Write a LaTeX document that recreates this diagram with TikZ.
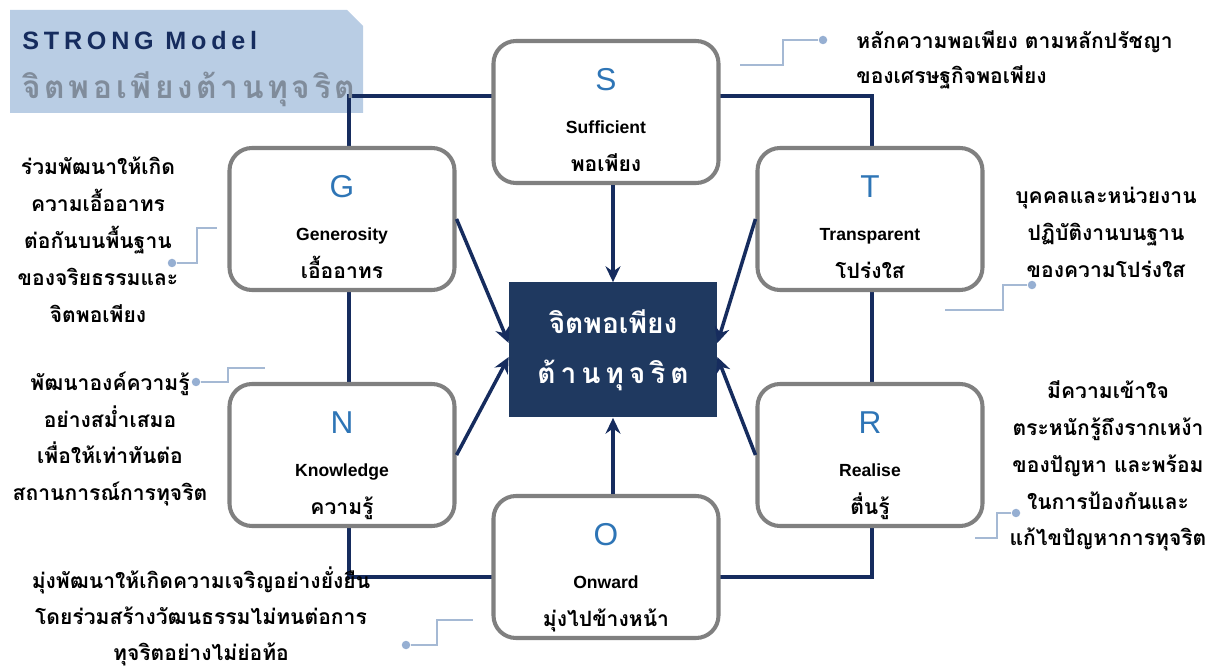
\documentclass[tikz,border=0pt]{standalone}
\usepackage{fontspec}
\setmainfont{Liberation Sans}
\newfontfamily\thaifont[Script=Thai]{Loma}
\definecolor{smnavy}{RGB}{22,44,94}
\definecolor{smcore}{RGB}{31,57,96}
\definecolor{smhead}{RGB}{185,205,228}
\definecolor{smgray}{RGB}{128,128,128}
\definecolor{smblue}{RGB}{46,117,182}
\definecolor{smleader}{RGB}{165,185,212}
\definecolor{smdot}{RGB}{150,175,210}
\definecolor{smsub}{RGB}{128,140,155}
\usetikzlibrary{arrows.meta,positioning,calc}
\newcommand{\hdgap}{\kern2.1pt}
\newcommand{\coregap}{\kern2.8pt}

\begin{document}
\begin{tikzpicture}[x=0.2mm,y=-0.2mm,
  smbox/.style={draw=smgray,line width=2.3pt,fill=white,rounded corners=4.5mm,
    minimum width=45mm,minimum height=28.4mm},
  smletter/.style={anchor=base,inner sep=0pt,text=smblue,font=\fontsize{18}{18}\selectfont},
  smeng/.style={anchor=base,inner sep=0pt,font=\fontsize{10}{12}\selectfont\bfseries},
  smthai/.style={anchor=base,inner sep=0pt,font=\thaifont\bfseries\fontsize{12}{14}\selectfont},
  smnote/.style={align=center,inner sep=0pt,font=\thaifont\bfseries\fontsize{12}{21}\selectfont},
  smframe/.style={smnavy,line width=2.2pt},
  smarrow/.style={-{Stealth[length=9pt,width=8.5pt]},smnavy,line width=2pt},
  smleadline/.style={smleader,line width=1pt},
  smdotnode/.style={circle,fill=smdot,inner sep=0pt,minimum size=1.7mm}
]
  \useasboundingbox (0,0) rectangle (1215,668);

  % header tab
  \fill[smhead] (10,10) -- (347,10) -- (363,26) -- (363,113) -- (10,113) -- cycle;

  % outer frame
  \coordinate (fTL) at (349,96);
  \coordinate (fBR) at (872,577);
  \draw[smframe] (fTL) rectangle (fBR);

  % header texts
  \node[anchor=base west,inner sep=0pt,text=smnavy,
    font=\fontsize{14.3}{16}\selectfont\bfseries\addfontfeature{LetterSpace=19}] (hdTitle) at (22,50) {STRONG Model};
  \node[anchor=base west,inner sep=0pt,text=smsub,
    font=\thaifont\bfseries\fontsize{18}{18}\selectfont] (hdSub) at (22,99)
    {จิ\hdgap ต\hdgap พ\hdgap อ\hdgap เ\hdgap พี\hdgap ย\hdgap ง\hdgap ต้\hdgap า\hdgap น\hdgap ทุ\hdgap จ\hdgap ริ\hdgap ต};

  % six letter boxes
  \foreach \nm/\bx/\by/\eng/\th in {S/606/112/Sufficient/พอเพียง,
      G/342/219/Generosity/เอื้ออาทร, T/870/219/Transparent/โปร่งใส,
      N/342/455/Knowledge/ความรู้, R/870/455/Realise/ตื่นรู้,
      O/606/567/Onward/มุ่งไปข้างหน้า}{
    \node[smbox] (\nm) at (\bx,\by) {};
    \node[smletter] (\nm-l) at ([yshift=12.5pt]\nm.center) {\nm};
    \node[smeng] (\nm-e) at ([yshift=-12.5pt]\nm.center) {\eng};
    \node[smthai] (\nm-t) at ([yshift=-34pt]\nm.center) {\th};
  }

  % core
  \node[fill=smcore,minimum width=41.6mm,minimum height=27mm,align=center,text=white,
    font=\thaifont\bfseries\fontsize{16}{28.5}\selectfont] (core) at (613,350)
    {จิตพอเพียง\\ต้\coregap า\coregap น\coregap ทุ\coregap จ\coregap ริ\coregap ต};

  % arrows into the core
  \draw[smarrow] (S.south -| core.north) -- (core.north);
  \draw[smarrow] (O.north -| core.south) -- (core.south);
  \draw[smarrow] (G.east) -- ([yshift=4pt]core.west);
  \draw[smarrow] (N.east) -- ([yshift=-4pt]core.west);
  \draw[smarrow] (T.west) -- ([yshift=4pt]core.east);
  \draw[smarrow] (R.west) -- ([yshift=-4pt]core.east);

  % notes
  \node[smnote,align=left,anchor=west,font=\thaifont\bfseries\fontsize{12}{20}\selectfont] (sNote) at (856,60)
    {หลักความพอเพียง ตามหลักปรัชญา\\ของเศรษฐกิจพอเพียง};
  \node[smnote] (gNote) at (98,240)
    {ร่วมพัฒนาให้เกิด\\ความเอื้ออาทร\\ต่อกันบนพื้นฐาน\\ของจริยธรรมและ\\จิตพอเพียง};
  \node[smnote] (tNote) at (1106,232)
    {บุคคลและหน่วยงาน\\ปฏิบัติงานบนฐาน\\ของความโปร่งใส};
  \node[smnote] (nNote) at (110,439)
    {พัฒนาองค์ความรู้\\อย่างสม่ำเสมอ\\เพื่อให้เท่าทันต่อ\\สถานการณ์การทุจริต};
  \node[smnote] (rNote) at (1108,466)
    {มีความเข้าใจ\\ตระหนักรู้ถึงรากเหง้า\\ของปัญหา และพร้อม\\ในการป้องกันและ\\แก้ไขปัญหาการทุจริต};
  \node[smnote,font=\thaifont\bfseries\fontsize{12}{20.5}\selectfont] (oNote) at (201,616)
    {มุ่งพัฒนาให้เกิดความเจริญอย่างยั่งยืน\\โดยร่วมสร้างวัฒนธรรมไม่ทนต่อการ\\ทุจริตอย่างไม่ย่อท้อ};

  % leader lines
  \node[smdotnode] (sDot) at (823,40) {};
  \coordinate (sKnee) at (783,65);
  \coordinate (sEnd) at (740,65);
  \draw[smleadline] (sDot) -| (sKnee) -- (sEnd);

  \node[smdotnode] (gDot) at (172,263) {};
  \coordinate (gKnee) at (197,228);
  \coordinate (gEnd) at (217,228);
  \draw[smleadline] (gDot) -| (gKnee) -- (gEnd);

  \node[smdotnode] (tDot) at (1032,285) {};
  \coordinate (tKnee) at (1003,310);
  \coordinate (tEnd) at (945,310);
  \draw[smleadline] (tDot) -| (tKnee) -- (tEnd);

  \node[smdotnode] (nDot) at (196,382) {};
  \coordinate (nKnee) at (228,368);
  \coordinate (nEnd) at (265,368);
  \draw[smleadline] (nDot) -| (nKnee) -- (nEnd);

  \node[smdotnode] (rDot) at (1016,513) {};
  \coordinate (rKnee) at (997,538);
  \coordinate (rEnd) at (975,538);
  \draw[smleadline] (rDot) -| (rKnee) -- (rEnd);

  \node[smdotnode] (oDot) at (406,645) {};
  \coordinate (oKnee) at (437,620);
  \coordinate (oEnd) at (473,620);
  \draw[smleadline] (oDot) -| (oKnee) -- (oEnd);
\end{tikzpicture}
\end{document}
